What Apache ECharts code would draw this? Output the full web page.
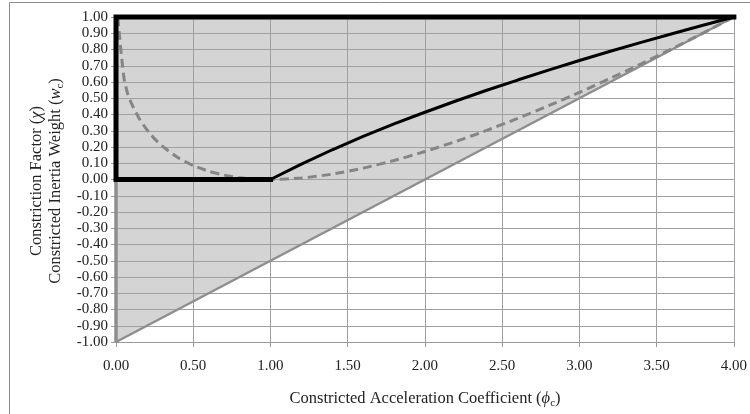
<!DOCTYPE html>
<html>
<head>
<meta charset="utf-8">
<script src="https://cdn.jsdelivr.net/npm/echarts@6/dist/echarts.min.js"></script>
<style>html,body{margin:0;padding:0;background:#fff;}#c{width:750px;height:414px;}</style>
</head>
<body>
<div id="c"></div>
<script>
// Stable region boundary (diagonal lower bound)
var boundaryLine = [[0, -1], [4, 1]];
// Left edge of region below zero
var leftGray = [[0, -1], [0, 0]];
// Black outline: top, left upper, zero segment
var blackOutline = [[4, 1], [0, 1], [0, 0], [1, 0]];
// Black curve (constriction factor) for phi_c >= 1
var blackCurveX = [1.0, 1.2, 1.4, 1.6, 1.8, 2.0, 2.2, 2.4, 2.6, 2.8, 3.0, 3.2, 3.4, 3.6, 3.8, 4.0];
var blackCurveY = [0.000, 0.095, 0.183, 0.265, 0.342, 0.414, 0.483, 0.549, 0.612, 0.673, 0.732, 0.789, 0.844, 0.897, 0.949, 1.000];
// Dashed curve (constricted inertia weight)
var dashedX = [0.012, 0.02, 0.03, 0.04, 0.054, 0.075, 0.1, 0.15, 0.2, 0.25, 0.3, 0.4, 0.5, 0.6, 0.7, 0.8, 0.9, 1.0, 1.2, 1.4, 1.6, 1.8, 2.0, 2.2, 2.4, 2.6, 2.8, 3.0, 3.2, 3.4, 3.6, 3.8, 4.0];
var dashedY = [1.000, 0.91, 0.81, 0.72, 0.61, 0.53, 0.468, 0.376, 0.306, 0.250, 0.205, 0.135, 0.086, 0.051, 0.027, 0.011, 0.003, 0.000, 0.009, 0.033, 0.070, 0.117, 0.172, 0.234, 0.302, 0.376, 0.454, 0.536, 0.622, 0.712, 0.805, 0.901, 1.000];

function zip(a, b) { return a.map(function (v, i) { return [v, b[i]]; }); }

var FONT = '"Liberation Serif", "Times New Roman", serif';
var TF = 16.5;
var chart = echarts.init(document.getElementById('c'));
var titleRich = {
  i: { fontStyle: 'italic', fontSize: TF, fontFamily: FONT, lineHeight: 20 },
  s: { fontSize: 11, fontFamily: FONT, verticalAlign: 'bottom', lineHeight: 20, padding: [7, 0, 0, 0] }
};
chart.setOption({
  animation: false,
  backgroundColor: '#fff',
  grid: { left: 116, right: 14, top: 17, bottom: 72 },
  xAxis: {
    type: 'value', min: 0, max: 4, interval: 0.5, z: 2,
    axisLine: { show: true, onZero: false, lineStyle: { color: '#999', width: 1 } },
    axisTick: { show: true, length: 5, inside: false, lineStyle: { color: '#999' } },
    axisLabel: { color: '#222', fontFamily: FONT, fontSize: 15, margin: 17, formatter: function (v) { return v.toFixed(2); } },
    splitLine: { show: true, lineStyle: { color: '#a0a0a0', width: 1 } }
  },
  yAxis: {
    type: 'value', min: -1, max: 1, interval: 0.1, z: 2,
    axisLine: { show: true, onZero: false, lineStyle: { color: '#999', width: 1 } },
    axisTick: { show: true, length: 5, inside: false, lineStyle: { color: '#999' } },
    axisLabel: { color: '#222', fontFamily: FONT, fontSize: 15, margin: 8, formatter: function (v) { return v.toFixed(2); } },
    splitLine: { show: true, lineStyle: { color: '#a0a0a0', width: 1 } }
  },
  graphic: [
    { type: 'rect', shape: { x: 9.5, y: 2.5, width: 800, height: 500 }, style: { fill: null, stroke: '#8c8c8c', lineWidth: 1 }, z: -10, silent: true },
    { type: 'text', x: 37, y: 181, rotation: Math.PI / 2,
      style: { text: 'Constriction Factor ({i|χ})', font: TF + 'px ' + FONT, fill: '#222', align: 'center', verticalAlign: 'middle', rich: titleRich } },
    { type: 'text', x: 56, y: 181, rotation: Math.PI / 2,
      style: { text: 'Constricted Inertia Weight ({i|w}{s|c})', font: TF + 'px ' + FONT, fill: '#222', align: 'center', verticalAlign: 'middle', rich: titleRich } },
    { type: 'text', x: 425, y: 399,
      style: { text: 'Constricted Acceleration Coefficient ({i|ϕ}{s|c})', font: TF + 'px ' + FONT, fill: '#222', align: 'center', verticalAlign: 'middle', rich: titleRich } }
  ],
  series: [
    { type: 'line', data: boundaryLine, z: 1, symbol: 'none', clip: false,
      lineStyle: { width: 0, opacity: 0 }, areaStyle: { origin: 'end', color: '#d4d4d4', opacity: 1 } },
    { type: 'line', data: boundaryLine, z: 3, symbol: 'none', clip: false,
      lineStyle: { color: '#8e8e8e', width: 2.5 } },
    { type: 'line', data: leftGray, z: 3, symbol: 'none', clip: false,
      lineStyle: { color: '#8e8e8e', width: 3.5 } },
    { type: 'line', data: zip(dashedX, dashedY), z: 4, symbol: 'none', clip: false, smooth: 0.2,
      lineStyle: { color: '#858585', width: 3, type: [9, 5] } },
    { type: 'line', data: blackOutline, z: 5, symbol: 'none', clip: false,
      lineStyle: { color: '#000', width: 5, join: 'miter', cap: 'square' } },
    { type: 'line', data: zip(blackCurveX, blackCurveY), z: 5, symbol: 'none', clip: false,
      lineStyle: { color: '#000', width: 3 } }
  ]
});
</script>
</body>
</html>
